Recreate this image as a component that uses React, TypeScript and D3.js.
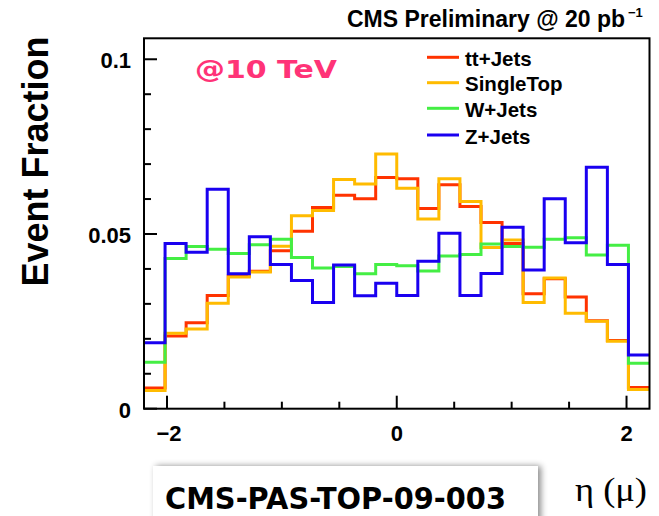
import React from "react";
import * as d3 from "d3";

// ---- data (event fraction per eta bin, 24 bins from -2.2 to 2.2) ----
const binLow = -2.2;
const binHigh = 2.2;
const nBins = 24;

const ttJets = [0.0059, 0.0208, 0.0246, 0.0324, 0.038, 0.0393, 0.0452, 0.0508, 0.0576, 0.0611, 0.0601, 0.0662, 0.0658, 0.0573, 0.0641, 0.0579, 0.0533, 0.0473, 0.0329, 0.0372, 0.032, 0.0252, 0.0195, 0.0061];
const singleTop = [0.0052, 0.0216, 0.0228, 0.0302, 0.0377, 0.0391, 0.0465, 0.0552, 0.0567, 0.0656, 0.0643, 0.0729, 0.0631, 0.0543, 0.0658, 0.0593, 0.0461, 0.0483, 0.0304, 0.0374, 0.0273, 0.025, 0.0193, 0.0055];
const wJets = [0.0133, 0.043, 0.0464, 0.0456, 0.0444, 0.0469, 0.0485, 0.0433, 0.0403, 0.0407, 0.0386, 0.0413, 0.0409, 0.0394, 0.0437, 0.0441, 0.0471, 0.0464, 0.0462, 0.0485, 0.0489, 0.044, 0.0468, 0.013];
const zJets = [0.0189, 0.0473, 0.0448, 0.0628, 0.0386, 0.0492, 0.0413, 0.0367, 0.0304, 0.0411, 0.0323, 0.0359, 0.0324, 0.0422, 0.0502, 0.0324, 0.0387, 0.0519, 0.0397, 0.0601, 0.0475, 0.0691, 0.0413, 0.0154];

const seriesNames = ["tt+Jets", "SingleTop", "W+Jets", "Z+Jets"];
const seriesColors = ["#ff3300", "#ffbb00", "#44ee44", "#1a00f0"];

const yMajorTicks = [0, 0.05, 0.1];
const yMajorLabels = ["0", "0.05", "0.1"];
const yMinorTicks = [0.01, 0.02, 0.03, 0.04, 0.06, 0.07, 0.08, 0.09];
const xMajorTicks = [-2, 0, 2];
const xMajorLabels = ["\u22122", "0", "2"];
const xMinorTicks = [-1.5, -1, -0.5, 0.5, 1, 1.5];

const W = 659;
const H = 516;
const L = 144, R = 649.5, T = 38.3, B = 408.7;

export default function App() {
  const x = d3.scaleLinear().domain([binLow, binHigh]).range([L, R]);
  const y = d3.scaleLinear().domain([0, 0.106]).range([B, T]);
  const edges = d3.range(nBins + 1).map((i) => binLow + (i * (binHigh - binLow)) / nBins);
  const line = d3
    .line<[number, number]>()
    .x((d) => x(d[0]))
    .y((d) => y(d[1]))
    .curve(d3.curveStepAfter);
  const all = [ttJets, singleTop, wJets, zJets];
  const pathFor = (vals: number[]) => {
    const pts: [number, number][] = vals.map((v, i) => [edges[i], v]);
    pts.push([edges[nBins], vals[nBins - 1]]);
    return line(pts) || "";
  };
  const helv = "'Liberation Sans', Arial, Helvetica, sans-serif";
  const comic = "'DejaVu Sans', sans-serif";
  return (
    <svg width={W} height={H} style={{ position: "absolute", left: 0, top: 0, background: "#fff" }}>
      <defs>
        <filter id="shadow" x="-10%" y="-30%" width="120%" height="160%">
          <feDropShadow dx="3" dy="0" stdDeviation="3" floodColor="#000" floodOpacity="0.45" />
        </filter>
        <clipPath id="plotclip">
          <rect x={L} y={T} width={R - L} height={B - T} />
        </clipPath>
      </defs>
      <rect x={0} y={0} width={W} height={H} fill="#fff" />

      {/* histograms */}
      <g clipPath="url(#plotclip)">
        {all.map((vals, k) => (
          <path key={k} d={pathFor(vals)} fill="none" stroke={seriesColors[k]} strokeWidth={3} />
        ))}
      </g>

      {/* frame */}
      <rect x={L} y={T} width={R - L} height={B - T} fill="none" stroke="#000" strokeWidth={2} />

      {/* y ticks */}
      {yMajorTicks.map((t, i) => (
        <g key={"ym" + i}>
          <line x1={L} x2={L + 13} y1={y(t)} y2={y(t)} stroke="#000" strokeWidth={2} />
          <text x={131} y={y(t)} dy="0.4em" textAnchor="end" fontFamily={helv} fontWeight="bold" fontSize={22}>
            {yMajorLabels[i]}
          </text>
        </g>
      ))}
      {yMinorTicks.map((t, i) => (
        <line key={"yn" + i} x1={L} x2={L + 7} y1={y(t)} y2={y(t)} stroke="#000" strokeWidth={2} />
      ))}

      {/* x ticks */}
      {xMajorTicks.map((t, i) => (
        <g key={"xm" + i}>
          <line x1={x(t)} x2={x(t)} y1={B} y2={B - 13} stroke="#000" strokeWidth={2} />
          <text x={x(t) + (t < 0 ? 2 : 0)} y={441} textAnchor="middle" fontFamily={helv} fontWeight="bold" fontSize={22}>
            {xMajorLabels[i]}
          </text>
        </g>
      ))}
      {xMinorTicks.map((t, i) => (
        <line key={"xn" + i} x1={x(t)} x2={x(t)} y1={B} y2={B - 7} stroke="#000" strokeWidth={2} />
      ))}

      {/* y axis title */}
      <text
        transform={`translate(48,161.5) rotate(-90)`}
        textAnchor="middle"
        fontFamily={helv}
        fontWeight="bold"
        fontSize={36}
      >
        Event Fraction
      </text>

      {/* top title */}
      <text x={347} y={27} fontFamily={helv} fontWeight="bold" fontSize={23}>
        CMS Preliminary @ 20 pb
      </text>
      <text x={628} y={17} fontFamily={helv} fontWeight="bold" fontSize={13}>
        {"\u22121"}
      </text>

      {/* energy label */}
      <text x={195} y={78} fontFamily={comic} fontWeight="bold" fontSize={25} fill="#ff3377" textLength={142} lengthAdjust="spacingAndGlyphs">
        @10 TeV
      </text>

      {/* legend */}
      {seriesNames.map((n, i) => {
        const ly = [57.3, 82.7, 108.3, 135][i];
        return (
          <g key={"lg" + i}>
            <line x1={427} x2={459} y1={ly} y2={ly} stroke={seriesColors[i]} strokeWidth={3} />
            <text x={465} y={ly + 8.7} fontFamily={helv} fontWeight="bold" fontSize={20.5}>
              {n}
            </text>
          </g>
        );
      })}

      {/* bottom box */}
      <rect x={153} y={466} width={385} height={70} fill="#fff" filter="url(#shadow)" />
      <text x={165} y={509} fontFamily={comic} fontWeight="bold" fontSize={30} textLength={341} lengthAdjust="spacingAndGlyphs">
        CMS-PAS-TOP-09-003
      </text>

      {/* x axis title */}
      <text x={575} y={501} fontFamily="'Liberation Serif', 'DejaVu Serif', serif" fontSize={34} textLength={72} lengthAdjust="spacingAndGlyphs">
        {"\u03b7 (\u03bc)"}
      </text>
    </svg>
  );
}
